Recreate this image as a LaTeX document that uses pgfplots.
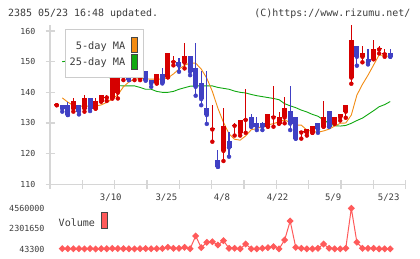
\documentclass[border=0pt]{standalone}
\usepackage{pgfplots}
\pgfplotsset{compat=1.18}
\usepackage{pgfplotstable}
\usepackage{fontspec}
\setmainfont{DejaVu Sans Mono}

\definecolor{upred}{RGB}{214,0,0}
\definecolor{dnblue}{RGB}{64,64,196}
\definecolor{maorange}{RGB}{242,140,20}
\definecolor{magreen}{RGB}{16,168,16}
\definecolor{volred}{RGB}{255,90,90}
\definecolor{axgray}{RGB}{214,214,214}
\definecolor{boxgray}{RGB}{204,204,204}
\definecolor{txtgray}{RGB}{60,60,60}
\definecolor{edge}{RGB}{70,70,70}

\newcommand\fs[1]{\fontsize{#1}{#1}\selectfont}

% up days (red): index open high low close
\pgfplotstableread{
i o h l c
0 135.8 135.8 135.8 135.8
3 134.7 138.3 133.7 137.2
5 134.7 139.1 133.7 138.0
7 134.7 138.3 134.7 137.2
8 137.0 139.1 137.0 139.1
9 138.3 139.1 137.2 138.3
10 138.0 145.1 138.0 145.1
11 139.9 145.1 138.0 145.1
12 145.1 146.2 144.0 145.1
14 145.1 146.2 144.0 145.1
15 144.8 146.5 144.0 145.9
18 142.9 145.9 142.9 145.9
20 144.9 152.8 144.9 152.8
21 149.9 151.7 148.8 149.9
23 149.7 156.0 147.8 151.8
28 127.9 135.9 123.9 127.9
30 120.9 134.8 117.6 129.0
32 129.1 129.9 125.9 129.1
33 126.8 131.0 125.9 131.0
34 131.0 141.1 126.8 131.0
38 128.8 132.8 128.8 132.8
39 131.8 142.1 128.8 131.8
40 129.8 133.7 129.8 131.9
41 131.8 138.4 129.9 134.8
44 126.9 126.9 124.9 126.9
45 126.8 127.9 125.9 127.9
46 126.8 129.0 126.8 129.0
48 128.8 137.1 128.8 131.9
50 129.8 131.9 129.8 131.9
51 131.8 132.8 130.8 132.8
52 133.7 135.8 131.7 135.8
53 144.8 162.0 142.8 157.1
55 151.6 155.1 149.8 152.7
57 150.8 157.1 150.8 154.1
58 154.0 155.1 152.7 154.0
59 152.4 154.1 151.6 152.4
}\upcandles

% down days (blue)
\pgfplotstableread{
i o h l c
1 135.8 135.8 133.7 134.7
2 135.9 137.0 132.6 132.6
4 135.9 135.9 132.8 133.7
6 138.0 138.0 133.9 134.7
13 145.9 148.9 144.0 144.0
16 147.0 147.0 143.8 144.0
17 144.0 144.0 141.8 142.9
19 145.9 148.0 142.9 143.2
22 150.0 151.1 146.7 148.7
24 151.8 151.8 145.6 146.7
25 147.9 156.0 138.9 141.8
26 142.9 146.8 135.8 137.8
27 135.0 147.0 129.7 132.6
29 117.9 121.2 115.7 115.7
31 124.1 127.2 119.0 122.0
35 131.9 132.8 128.8 128.8
36 129.9 131.9 127.7 128.8
37 129.9 130.4 127.7 128.8
42 133.9 142.1 127.7 129.8
43 132.0 132.0 124.9 124.9
47 129.9 129.9 126.8 127.9
49 133.9 133.9 128.8 128.8
54 155.1 155.1 148.7 151.6
56 151.0 154.1 149.1 149.8
60 152.7 154.1 151.6 151.6
}\dncandles

% moving averages as drawn
\pgfplotstableread{
i m5 m25
1 138.2 150.0
2 136.8 150.2
3 135.7 150.0
4 135.5 149.6
5 135.5 149.2
6 135.5 148.7
7 135.5 148.1
8 135.9 147.4
9 136.7 146.4
10 137.8 143.5
11 139.2 142.2
12 141.8 142.1
13 143.4 142.1
14 144.3 142.1
15 144.5 141.6
16 144.4 141.0
17 144.3 141.0
18 144.3 140.3
19 144.3 140.0
20 144.7 140.0
21 146.0 140.3
22 147.6 141.0
23 148.8 141.5
24 149.6 142.0
25 149.5 142.1
26 147.6 142.1
27 144.6 142.1
28 140.3 142.1
29 134.8 141.6
30 130.2 141.3
31 126.5 141.0
32 124.7 140.4
33 124.4 140.0
34 125.8 139.8
35 127.8 139.3
36 128.2 138.9
37 128.9 138.6
38 129.4 138.3
39 129.8 138.0
40 130.4 137.6
41 131.0 136.3
42 130.2 135.6
43 129.3 135.0
44 129.3 134.2
45 127.7 133.6
46 127.2 132.8
47 127.0 132.2
48 127.4 131.0
49 128.0 129.9
50 129.0 129.1
51 129.9 129.0
52 130.0 129.2
53 132.6 129.9
54 139.1 130.8
55 142.6 131.6
56 145.6 132.8
57 148.9 134.0
58 152.2 135.3
59 152.0 136.0
60 151.6 137.0
}\mavg

\pgfplotstableread{
i v
1 90000
2 80000
3 70000
4 80000
5 60000
6 90000
7 43300
8 80000
9 70000
10 100000
11 90000
12 80000
13 70000
14 60000
15 80000
16 90000
17 70000
18 80000
19 100000
20 232000
21 121000
22 121000
23 232000
24 70000
25 1490000
26 190000
27 787000
28 853000
29 487000
30 964000
31 121000
32 121000
33 60000
34 598000
35 60000
36 60000
37 121000
38 190000
39 300000
40 60000
41 1040000
42 3150000
43 232000
44 121000
45 60000
46 60000
47 121000
48 598000
49 121000
50 60000
51 60000
52 121000
53 4560000
54 787000
55 121000
56 121000
57 121000
58 60000
59 60000
60 60000
}\volume

\begin{document}
\begin{tikzpicture}
\path[use as bounding box] (0bp,0bp) rectangle (420bp,259bp);

\node[anchor=base west, inner sep=0pt, text=txtgray, font=\fs{10}] at (8bp,242.7bp) {2385 05/23 16:48 updated.};
\node[anchor=base east, inner sep=0pt, text=txtgray, font=\fs{10}] at (410.5bp,242.7bp) {(C)https://www.rizumu.net/};

% price panel
\begin{axis}[
  at={(50bp,74.7bp)}, anchor=south west,
  scale only axis, width=355.7bp, height=159.4bp,
  xmin=-1.205, xmax=62.782, ymin=110, ymax=162,
  clip=false,
  axis x line*=bottom, axis y line*=left,
  axis line style={-, axgray, line width=1.2bp},
  tick align=center, major tick length=9bp,
  tick style={axgray, line width=1.2bp},
  xtick={-1.205,4.612,10.429,16.246,22.063,27.880,33.697,39.514,45.331,51.148,56.965,62.782},
  xticklabels={},
  extra x ticks={10,20,30,40,50,60},
  extra x tick labels={3/10,3/25,4/8,4/22,5/9,5/23},
  extra x tick style={major tick length=0pt, tick style={draw=none},
    xticklabel style={anchor=base, inner sep=0pt, yshift=-16.2bp, xshift=-1.5bp, font=\fs{9}, text=txtgray}},
  ytick={110,120,130,140,150,160},
  yticklabels={110,120,130,140,150,160},
  yticklabel style={anchor=base east, inner sep=0pt, font=\fs{8.3}, text=txtgray, xshift=-10bp, yshift=-3bp},
]
\addplot[magreen, line width=0.9bp, mark=none] table[x=i, y=m25] {\mavg};
\addplot[maorange, line width=0.9bp, mark=none] table[x=i, y=m5] {\mavg};

\addplot[only marks, mark=none, upred, error bars/.cd, y dir=plus, y explicit, error mark=none,
  error bar style={draw=upred, line width=1.1bp}]
  table[x=i, y=l, y error plus expr=\thisrow{h}-\thisrow{l}] {\upcandles};
\addplot[only marks, mark=none, dnblue, error bars/.cd, y dir=plus, y explicit, error mark=none,
  error bar style={draw=dnblue, line width=1.1bp}]
  table[x=i, y=l, y error plus expr=\thisrow{h}-\thisrow{l}] {\dncandles};

\addplot[only marks, mark=none, upred, error bars/.cd, y dir=plus, y explicit, error mark=none,
  error bar style={draw=upred, line width=5bp}]
  table[x=i, y expr={min(\thisrow{o},\thisrow{c})}, y error plus expr={max(abs(\thisrow{c}-\thisrow{o}),0.33)}] {\upcandles};
\addplot[only marks, mark=none, dnblue, error bars/.cd, y dir=plus, y explicit, error mark=none,
  error bar style={draw=dnblue, line width=5bp}]
  table[x=i, y expr={min(\thisrow{o},\thisrow{c})}, y error plus expr={max(abs(\thisrow{c}-\thisrow{o}),0.33)}] {\dncandles};
\end{axis}

% volume panel
\begin{axis}[
  at={(50bp,10bp)}, anchor=south west,
  scale only axis, width=355.7bp, height=40.7bp,
  xmin=-1.205, xmax=62.782, ymin=43300, ymax=4560000,
  clip=false,
  axis x line=none, axis y line*=left,
  y axis line style={draw=none},
  ytick={43300,2301650,4560000},
  yticklabels={43300,2301650,4560000},
  scaled y ticks=false,
  ytick style={draw=none}, major tick length=0pt,
  yticklabel style={anchor=base east, inner sep=0pt, font=\fs{8.4}, text=txtgray, xshift=-5.3bp, yshift=-3.05bp},
]
\addplot[volred, line width=1bp, mark=square*, mark size=2bp,
  mark options={rotate=45, fill=volred, draw=volred}]
  table[x=i, y=v] {\volume};
\end{axis}

% legends
\draw[boxgray, line width=1bp, fill=white] (65bp,181.7bp) rectangle (143.3bp,229bp);
\node[anchor=base east, inner sep=0pt, font=\fs{10.3}, text=txtgray] at (125.5bp,209.2bp) {5-day MA};
\node[anchor=base east, inner sep=0pt, font=\fs{10.3}, text=txtgray] at (125.5bp,193.2bp) {25-day MA};
\draw[edge, line width=1bp, fill=maorange] (131bp,206.3bp) rectangle (137.7bp,221.7bp);
\draw[edge, line width=1bp, fill=magreen] (131bp,189bp) rectangle (137.7bp,204.7bp);

\node[anchor=base west, inner sep=0pt, font=\fs{10.1}, text=txtgray] at (58.5bp,33bp) {Volume};
\draw[edge, line width=1bp, fill=volred] (101.7bp,30.7bp) rectangle (107.3bp,46.3bp);
\end{tikzpicture}
\end{document}
